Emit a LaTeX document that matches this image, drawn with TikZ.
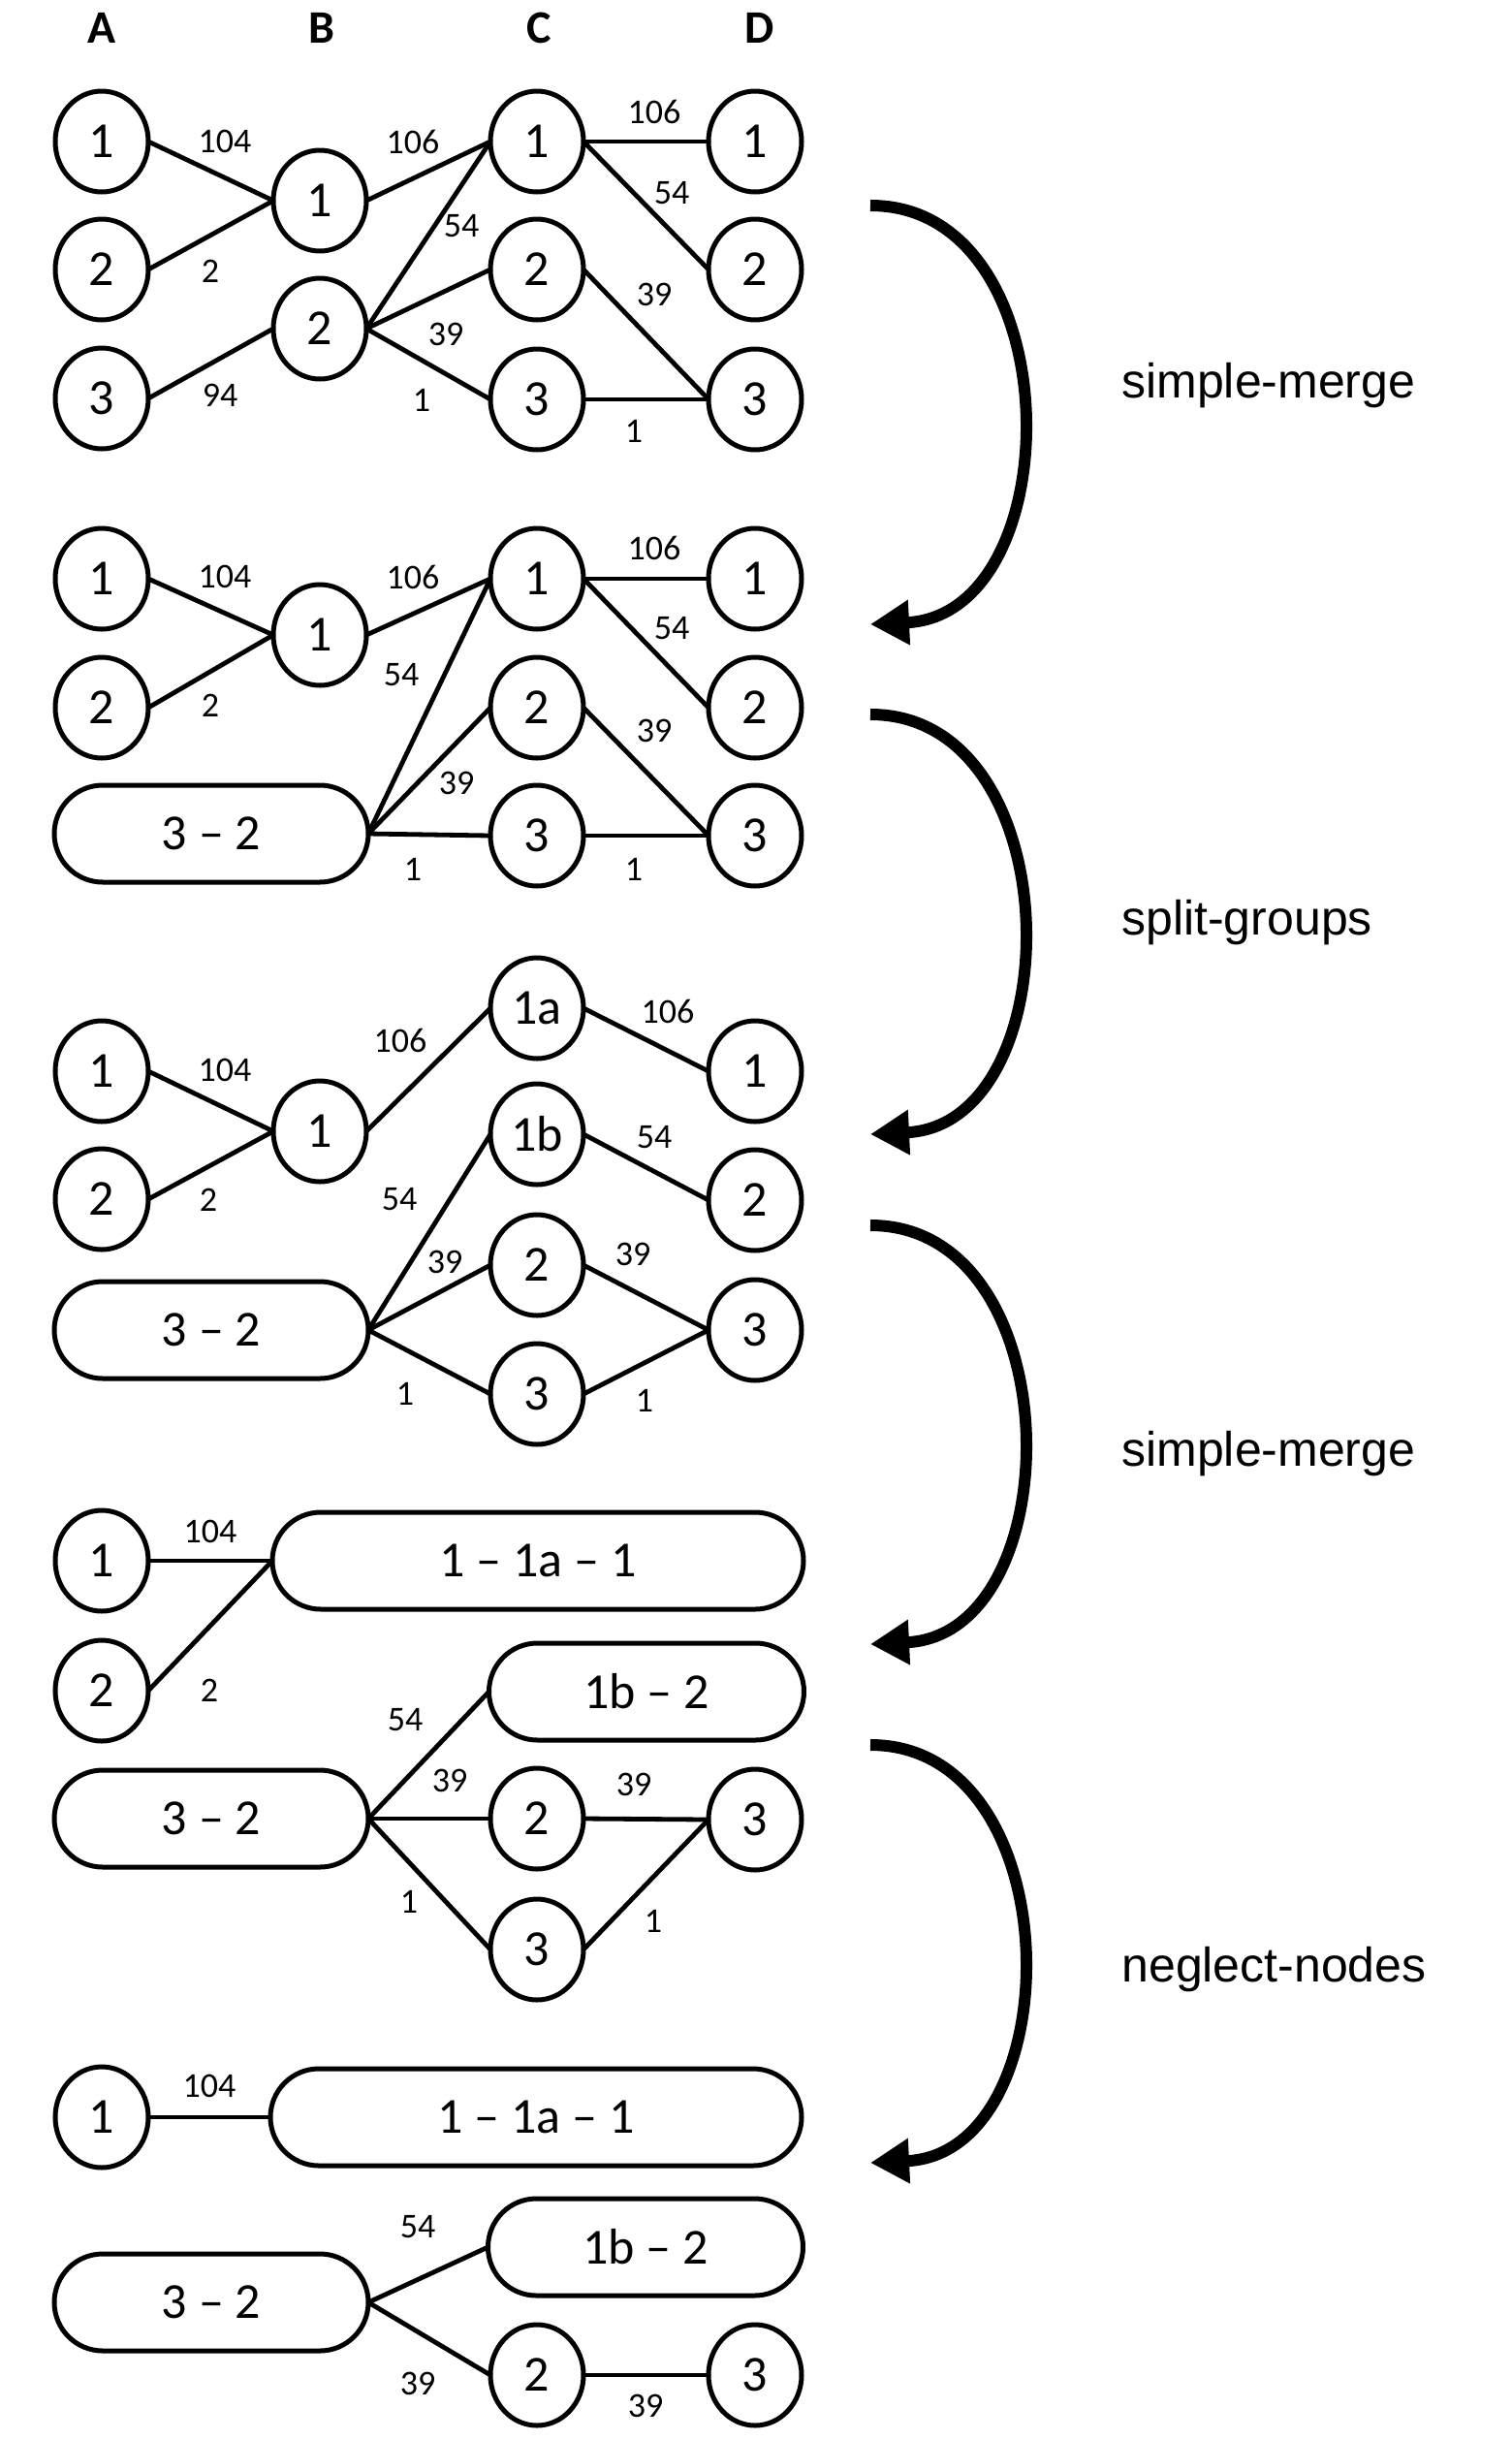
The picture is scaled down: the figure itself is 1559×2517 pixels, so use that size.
\documentclass[tikz,border=0pt]{standalone}
\usepackage{fontspec}
\setmainfont{Carlito}
\newfontfamily\arialfont{Liberation Sans}
\usetikzlibrary{shapes.geometric,arrows.meta}
\begin{document}
\begin{tikzpicture}[x=0.5pt,y=-0.5pt,
  nd/.style={ellipse,draw,line width=2.5pt,minimum width=48pt,minimum height=52pt,inner sep=0pt,outer sep=0pt,font=\fontsize{26}{30}\selectfont},
  bx/.style={rectangle,draw,line width=2.5pt,rounded corners=25pt,minimum height=50pt,inner sep=0pt,outer sep=0pt,font=\fontsize{26}{30}\selectfont},
  ed/.style={line width=2.4pt},
  lb/.style={inner sep=0pt,font=\fontsize{18}{20}\selectfont},
  hd/.style={inner sep=0pt,font=\bfseries\fontsize{24}{28}\selectfont},
  op/.style={anchor=base west,inner sep=0pt,font=\arialfont\fontsize{25}{30}\selectfont},
  bigarrow/.style={line width=6pt,-{Triangle[length=20pt,width=22pt]}}
]
\useasboundingbox (0,0) rectangle (1559,2517);
% headers
\node[hd] (hA) at (105,29) {A};
\node[hd] (hB) at (332,29) {B};
\node[hd] (hC) at (556,29) {C};
\node[hd] (hD) at (784,29) {D};

% ---------- row 1 ----------
\node[nd] (r1a1) at (105,146) {1};
\node[nd] (r1a2) at (105,278) {2};
\node[nd] (r1a3) at (105,411) {3};
\node[nd] (r1b1) at (330,207) {1};
\node[nd] (r1b2) at (330,339) {2};
\node[nd] (r1c1) at (554,146) {1};
\node[nd] (r1c2) at (554,278) {2};
\node[nd] (r1c3) at (554,412) {3};
\node[nd] (r1d1) at (779,146) {1};
\node[nd] (r1d2) at (779,278) {2};
\node[nd] (r1d3) at (779,412) {3};
\draw[ed] (r1a1.east) -- (r1b1.west);
\draw[ed] (r1a2.east) -- (r1b1.west);
\draw[ed] (r1a3.east) -- (r1b2.west);
\draw[ed] (r1b1.east) -- (r1c1.west);
\draw[ed] (r1b2.east) -- (r1c1.west);
\draw[ed] (r1b2.east) -- (r1c2.west);
\draw[ed] (r1b2.east) -- (r1c3.west);
\draw[ed] (r1c1.east) -- (r1d1.west);
\draw[ed] (r1c1.east) -- (r1d2.west);
\draw[ed] (r1c2.east) -- (r1d3.west);
\draw[ed] (r1c3.east) -- (r1d3.west);
\node[lb] (l11) at (232,146) {104};
\node[lb] (l12) at (217,280) {2};
\node[lb] (l13) at (227,408) {94};
\node[lb] (l14) at (426,146) {106};
\node[lb] (l15) at (476,233) {54};
\node[lb] (l16) at (460,345) {39};
\node[lb] (l17) at (435,413) {1};
\node[lb] (l18) at (675,115) {106};
\node[lb] (l19) at (693,199) {54};
\node[lb] (l110) at (675,304) {39};
\node[lb] (l111) at (654,445) {1};

% ---------- row 2 ----------
\node[nd] (r2a1) at (105,597) {1};
\node[nd] (r2a2) at (105,730) {2};
\node[nd] (r2b1) at (330,655) {1};
\node[bx,minimum width=162pt] (r2x) at (218,860) {3 – 2};
\node[nd] (r2c1) at (554,597) {1};
\node[nd] (r2c2) at (554,730) {2};
\node[nd] (r2c3) at (554,862) {3};
\node[nd] (r2d1) at (779,597) {1};
\node[nd] (r2d2) at (779,730) {2};
\node[nd] (r2d3) at (779,862) {3};
\draw[ed] (r2a1.east) -- (r2b1.west);
\draw[ed] (r2a2.east) -- (r2b1.west);
\draw[ed] (r2b1.east) -- (r2c1.west);
\draw[ed] (r2x.east) -- (r2c1.west);
\draw[ed] (r2x.east) -- (r2c2.west);
\draw[ed] (r2x.east) -- (r2c3.west);
\draw[ed] (r2c1.east) -- (r2d1.west);
\draw[ed] (r2c1.east) -- (r2d2.west);
\draw[ed] (r2c2.east) -- (r2d3.west);
\draw[ed] (r2c3.east) -- (r2d3.west);
\node[lb] (l21) at (232,595) {104};
\node[lb] (l22) at (217,728) {2};
\node[lb] (l23) at (426,595) {106};
\node[lb] (l24) at (414,696) {54};
\node[lb] (l25) at (471,808) {39};
\node[lb] (l26) at (426,897) {1};
\node[lb] (l27) at (675,565) {106};
\node[lb] (l28) at (693,648) {54};
\node[lb] (l29) at (675,754) {39};
\node[lb] (l210) at (654,897) {1};

% ---------- row 3 ----------
\node[nd] (r3a1) at (105,1105) {1};
\node[nd] (r3a2) at (105,1237) {2};
\node[nd] (r3b1) at (330,1167) {1};
\node[bx,minimum width=162pt] (r3x) at (218,1372) {3 – 2};
\node[nd] (r3c1a) at (554,1040) {1a};
\node[nd] (r3c1b) at (554,1170) {1b};
\node[nd] (r3c2) at (554,1305) {2};
\node[nd] (r3c3) at (554,1438) {3};
\node[nd] (r3d1) at (779,1105) {1};
\node[nd] (r3d2) at (779,1238) {2};
\node[nd] (r3d3) at (779,1372) {3};
\draw[ed] (r3a1.east) -- (r3b1.west);
\draw[ed] (r3a2.east) -- (r3b1.west);
\draw[ed] (r3b1.east) -- (r3c1a.west);
\draw[ed] (r3x.east) -- (r3c1b.west);
\draw[ed] (r3x.east) -- (r3c2.west);
\draw[ed] (r3x.east) -- (r3c3.west);
\draw[ed] (r3c1a.east) -- (r3d1.west);
\draw[ed] (r3c1b.east) -- (r3d2.west);
\draw[ed] (r3c2.east) -- (r3d3.west);
\draw[ed] (r3c3.east) -- (r3d3.west);
\node[lb] (l31) at (232,1104) {104};
\node[lb] (l32) at (215,1238) {2};
\node[lb] (l33) at (413,1073) {106};
\node[lb] (l34) at (412,1237) {54};
\node[lb] (l35) at (459,1302) {39};
\node[lb] (l36) at (418,1438) {1};
\node[lb] (l37) at (689,1043) {106};
\node[lb] (l38) at (675,1173) {54};
\node[lb] (l39) at (653,1294) {39};
\node[lb] (l310) at (665,1445) {1};

% ---------- row 4 ----------
\node[nd] (r4a1) at (105,1610) {1};
\node[nd] (r4a2) at (105,1744) {2};
\node[bx,minimum width=274pt] (r4y) at (555,1610) {1 – 1a – 1};
\node[bx,minimum width=162.5pt] (r4z) at (667,1745) {1b – 2};
\node[bx,minimum width=162pt] (r4x) at (218,1876) {3 – 2};
\node[nd] (r4c2) at (554,1876) {2};
\node[nd] (r4c3) at (554,2011) {3};
\node[nd] (r4d3) at (779,1877) {3};
\draw[ed] (r4a1.east) -- (r4y.west);
\draw[ed] (r4a2.east) -- (r4y.west);
\draw[ed] (r4x.east) -- (r4z.west);
\draw[ed] (r4x.east) -- (r4c2.west);
\draw[ed] (r4x.east) -- (r4c3.west);
\draw[ed] (r4c2.east) -- (r4d3.west);
\draw[ed] (r4c3.east) -- (r4d3.west);
\node[lb] (l41) at (217,1580) {104};
\node[lb] (l42) at (216,1744) {2};
\node[lb] (l43) at (418,1774) {54};
\node[lb] (l44) at (464,1837) {39};
\node[lb] (l45) at (654,1841) {39};
\node[lb] (l46) at (422,1962) {1};
\node[lb] (l47) at (674,1982) {1};

% ---------- row 5 ----------
\node[nd] (r5a1) at (105,2184) {1};
\node[bx,minimum width=274pt] (r5y) at (553,2184) {1 – 1a – 1};
\node[bx,minimum width=162.5pt] (r5z) at (666,2318) {1b – 2};
\node[bx,minimum width=162pt] (r5x) at (218,2375) {3 – 2};
\node[nd] (r5c2) at (554,2450) {2};
\node[nd] (r5d3) at (779,2450) {3};
\draw[ed] (r5a1.east) -- (r5y.west);
\draw[ed] (r5x.east) -- (r5z.west);
\draw[ed] (r5x.east) -- (r5c2.west);
\draw[ed] (r5c2.east) -- (r5d3.west);
\node[lb] (l51) at (216,2152) {104};
\node[lb] (l52) at (431,2297) {54};
\node[lb] (l53) at (431,2459) {39};
\node[lb] (l54) at (666,2482) {39};

% ---------- transition arrows ----------
\coordinate (s1) at (898,212);  \coordinate (t1) at (898,644);
\coordinate (s2) at (898,737);  \coordinate (t2) at (898,1170);
\coordinate (s3) at (898,1264); \coordinate (t3) at (898,1696);
\coordinate (s4) at (898,1800); \coordinate (t4) at (898,2231);
\draw[bigarrow] (s1) .. controls +(208,0) and +(208,-10) .. (t1);
\draw[bigarrow] (s2) .. controls +(208,0) and +(208,-10) .. (t2);
\draw[bigarrow] (s3) .. controls +(208,0) and +(208,-10) .. (t3);
\draw[bigarrow] (s4) .. controls +(208,0) and +(208,-10) .. (t4);
\node[op] (o1) at (1157,410) {simple-merge};
\node[op] (o2) at (1157,964) {split-groups};
\node[op] (o3) at (1157,1512) {simple-merge};
\node[op] (o4) at (1157,2044) {neglect-nodes};
\end{tikzpicture}
\end{document}
